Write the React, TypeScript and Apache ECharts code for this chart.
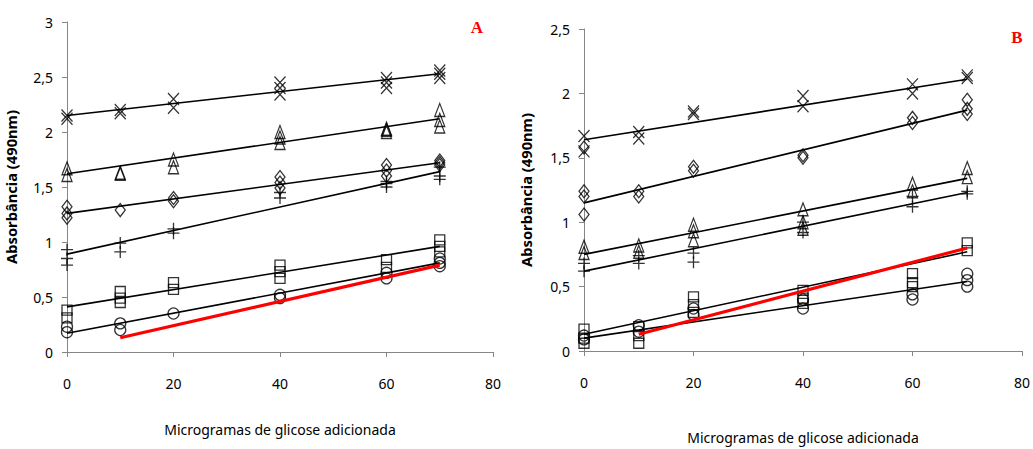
import React, { useEffect, useRef } from "react";
import * as echarts from "echarts";

// Glucose added (µg) at which each absorbance was measured
const doses = [0, 10, 20, 40, 60, 70];

// Panel A – replicate absorbances per dose, one list per sample
const aCross = [[2.15, 2.12], [2.2, 2.17], [2.3, 2.22], [2.45, 2.4, 2.34], [2.49, 2.45, 2.4], [2.56, 2.53, 2.49]];
const aTriangle = [[1.67, 1.61], [1.63, 1.62], [1.75, 1.68], [2.0, 1.95, 1.9], [2.0, 2.02, 2.03], [2.2, 2.11, 2.05]];
const aDiamond = [[1.32, 1.26, 1.22], [1.29], [1.4, 1.37], [1.59, 1.54, 1.49], [1.7, 1.65, 1.6], [1.74, 1.72, 1.7]];
const aPlus = [[0.93, 0.85, 0.79], [0.99, 0.91], [1.12, 1.08], [1.45, 1.4], [1.5, 1.53, 1.55], [1.68, 1.6, 1.57]];
const aSquare = [[0.38, 0.31], [0.55, 0.49, 0.45], [0.63, 0.57], [0.79, 0.73, 0.67], [0.84, 0.77], [1.02, 0.96, 0.91]];
const aCircle = [[0.23, 0.18], [0.26, 0.2], [0.35], [0.52, 0.49], [0.72, 0.67], [0.85, 0.81, 0.78]];

// Panel A – linear trend lines, value at x = 0 and x = 70
const aTrends = [
  [2.15, 2.53],
  [1.62, 2.12],
  [1.26, 1.72],
  [0.89, 1.64],
  [0.41, 0.96],
  [0.17, 0.81],
];
// Panel A – reference (red) line, value at x = 10 and x = 70
const aRed = [0.13, 0.79];

// Panel B – replicate absorbances per dose
const bCross = [[1.67, 1.55], [1.7, 1.65], [1.86, 1.84], [1.98, 1.9], [2.07, 2.0], [2.14, 2.12]];
const bDiamond = [[1.58, 1.24, 1.2, 1.06], [1.24, 1.2], [1.43, 1.4], [1.52, 1.5], [1.81, 1.77], [1.95, 1.88, 1.84]];
const bTriangle = [[0.81, 0.76], [0.82, 0.77], [0.98, 0.93, 0.86], [1.1, 1.0, 0.95], [1.3, 1.24], [1.42, 1.35]];
const bPlus = [[0.68, 0.62], [0.74, 0.68], [0.76, 0.69], [1.0, 0.92], [1.2, 1.12], [1.24, 1.22]];
const bSquare = [[0.17, 0.1, 0.06], [0.19, 0.12, 0.06], [0.42, 0.36, 0.3], [0.47, 0.41, 0.37], [0.6, 0.53, 0.5], [0.84, 0.78]];
const bCircle = [[0.12, 0.09], [0.2, 0.15], [0.33, 0.28], [0.4, 0.33], [0.44, 0.4], [0.6, 0.55, 0.5]];

const bTrends = [
  [1.64, 2.11],
  [1.15, 1.87],
  [0.75, 1.34],
  [0.62, 1.23],
  [0.13, 0.77],
  [0.1, 0.54],
];
const bRed = [0.13, 0.8];

const yTicksA = { min: 0, max: 3, interval: 0.5 };
const yTicksB = { min: 0, max: 2.5, interval: 0.5 };
const xTicks = { min: 0, max: 80, interval: 20 };

const xTitle = "Microgramas de glicose adicionada";
const yTitle = "Absorbância (490nm)";

const CROSS = "path://M0,0L10,12M10,0L0,12";
const PLUS = "path://M5,0L5,12M0,6L10,6";

const markerDefs: Record<string, { symbol: string; size: number[] }> = {
  cross: { symbol: CROSS, size: [11, 12] },
  triangle: { symbol: "triangle", size: [10, 13] },
  diamond: { symbol: "diamond", size: [10, 13] },
  plus: { symbol: PLUS, size: [12, 12] },
  square: { symbol: "rect", size: [10, 10] },
  circle: { symbol: "circle", size: [11, 11] },
};

function points(reps: number[][]) {
  const out: number[][] = [];
  reps.forEach((vals, i) => vals.forEach((v) => out.push([doses[i], v])));
  return out;
}

function scatter(name: string, kind: string, reps: number[][], idx: number) {
  const m = markerDefs[kind];
  return {
    name,
    type: "scatter",
    xAxisIndex: idx,
    yAxisIndex: idx,
    symbol: m.symbol,
    symbolSize: m.size,
    itemStyle: { color: "rgba(0,0,0,0)", borderColor: "#000", borderWidth: 1.3 },
    data: points(reps),
    z: 3,
  };
}

function trend(ends: number[], x0: number, idx: number, color: string, width: number) {
  return {
    type: "line",
    xAxisIndex: idx,
    yAxisIndex: idx,
    showSymbol: false,
    symbol: "none",
    lineStyle: { color, width },
    data: [
      [x0, ends[0]],
      [doses[doses.length - 1], ends[1]],
    ],
    z: color === "#000" ? 4 : 5,
  };
}

const axisColor = "#868686";
const tickFont = { fontFamily: "Noto Sans", fontSize: 14, color: "#000" };

function xAxis(idx: number, nameGap: number) {
  return {
    type: "value",
    gridIndex: idx,
    ...xTicks,
    name: xTitle,
    nameLocation: "middle",
    nameGap,
    nameTextStyle: { fontFamily: "Noto Sans", fontSize: 14, color: "#000" },
    axisLine: { lineStyle: { color: axisColor } },
    axisTick: { length: 5, lineStyle: { color: axisColor } },
    axisLabel: { ...tickFont, margin: 24 },
    splitLine: { show: false },
  };
}

function yAxis(idx: number, ticks: any, nameGap: number) {
  return {
    type: "value",
    gridIndex: idx,
    ...ticks,
    name: yTitle,
    nameLocation: "middle",
    nameGap,
    nameTextStyle: { fontFamily: "Noto Sans", fontSize: 14.7, fontWeight: "bold", color: "#000" },
    axisLine: { show: true, lineStyle: { color: axisColor } },
    axisTick: { show: true, length: 5, lineStyle: { color: axisColor } },
    axisLabel: {
      ...tickFont,
      margin: 14,
      formatter: (v: number) => String(v).replace(".", ","),
    },
    splitLine: { show: false },
  };
}

export default function App() {
  const ref = useRef<HTMLDivElement>(null);

  useEffect(() => {
    if (!ref.current) return;
    const chart = echarts.init(ref.current, null, { renderer: "svg" });
    const aSets = [aCross, aTriangle, aDiamond, aPlus, aSquare, aCircle];
    const aKinds = ["cross", "triangle", "diamond", "plus", "square", "circle"];
    const bSets = [bCross, bDiamond, bTriangle, bPlus, bSquare, bCircle];
    const bKinds = ["cross", "diamond", "triangle", "plus", "square", "circle"];

    const series: any[] = [];
    aSets.forEach((s, i) => series.push(scatter("A-" + aKinds[i], aKinds[i], s, 0)));
    aTrends.forEach((t) => series.push(trend(t, 0, 0, "#000", 1.6)));
    series.push(trend(aRed, 10, 0, "#ff0000", 3.2));
    bSets.forEach((s, i) => series.push(scatter("B-" + bKinds[i], bKinds[i], s, 1)));
    bTrends.forEach((t) => series.push(trend(t, 0, 1, "#000", 1.6)));
    series.push(trend(bRed, 10, 1, "#ff0000", 3.2));

    chart.setOption({
      animation: false,
      backgroundColor: "#fff",
      grid: [
        { left: 67, top: 22, width: 426, height: 330 },
        { left: 584, top: 29, width: 439, height: 330 },
      ],
      xAxis: [xAxis(0, 70), xAxis(1, 79)],
      yAxis: [yAxis(0, yTicksA, 49), yAxis(1, yTicksB, 51)],
      series,
      graphic: [
        {
          type: "text",
          x: 477,
          y: 27,
          style: {
            text: "A",
            fill: "#ff0000",
            font: 'bold 17px "Liberation Serif"',
            align: "center",
            verticalAlign: "middle",
          },
        },
        {
          type: "text",
          x: 1017,
          y: 37,
          style: {
            text: "B",
            fill: "#ff0000",
            font: 'bold 17px "Liberation Serif"',
            align: "center",
            verticalAlign: "middle",
          },
        },
      ],
    });
    return () => chart.dispose();
  }, []);

  return (
    <div
      ref={ref}
      style={{ position: "fixed", left: 0, top: 0, width: 1033, height: 449, background: "#fff" }}
    />
  );
}
